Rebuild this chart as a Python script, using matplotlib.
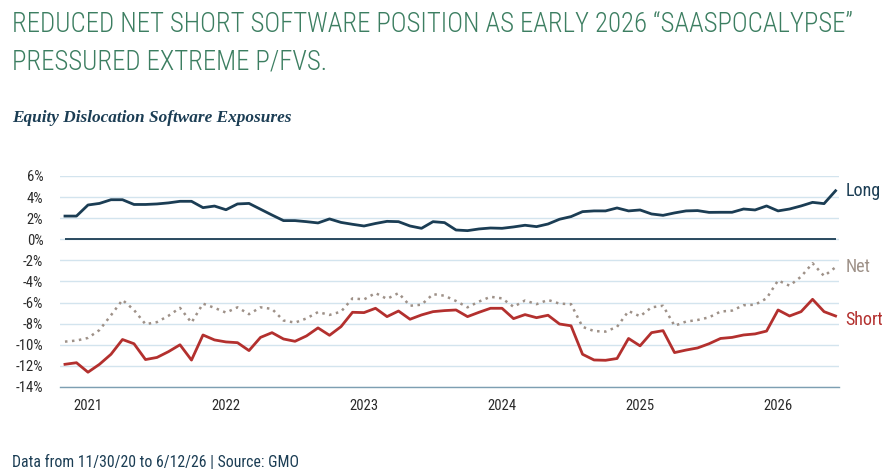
import matplotlib.pyplot as plt
import numpy as np

# monthly points, 11/30/20 .. 6/12/26
long_pos = [2.2, 2.2, 3.25, 3.4, 3.75, 3.75, 3.3, 3.3, 3.35, 3.45, 3.6, 3.6,
            3.0, 3.15, 2.8, 3.35, 3.4, 2.85, 2.3, 1.77, 1.77, 1.67, 1.55, 1.93,
            1.6, 1.42, 1.26, 1.5, 1.7, 1.67, 1.26, 1.04, 1.67, 1.58, 0.88, 0.82,
            0.98, 1.07, 1.04, 1.17, 1.33, 1.2, 1.45, 1.9, 2.15, 2.62, 2.69, 2.69,
            2.97, 2.69, 2.78, 2.4, 2.27, 2.5, 2.69, 2.72, 2.55, 2.56, 2.56, 2.87,
            2.78, 3.16, 2.69, 2.87, 3.16, 3.5, 3.38, 4.6]
short_pos = [-11.85, -11.7, -12.6, -11.85, -10.9, -9.5, -9.9, -11.4, -11.2, -10.65, -10.0, -11.45,
             -9.07, -9.54, -9.73, -9.8, -10.55, -9.3, -8.85, -9.45, -9.67, -9.16, -8.4, -9.1,
             -8.28, -6.92, -6.95, -6.54, -7.33, -6.8, -7.58, -7.17, -6.86, -6.76, -6.7, -7.33,
             -6.92, -6.54, -6.54, -7.52, -7.14, -7.43, -7.2, -8.03, -8.2, -10.9, -11.44, -11.47,
             -11.3, -9.4, -10.1, -8.85, -8.66, -10.74, -10.5, -10.3, -9.9, -9.4, -9.3, -9.07,
             -8.97, -8.7, -6.7, -7.27, -6.86, -5.69, -6.86, -7.27]
net_pos = [-9.7, -9.6, -9.35, -8.6, -7.2, -5.75, -6.7, -8.05, -7.85, -7.25, -6.5, -7.9,
           -6.1, -6.5, -6.95, -6.45, -7.1, -6.45, -6.6, -7.7, -7.9, -7.5, -6.9, -7.17,
           -6.86, -5.6, -5.7, -5.1, -5.65, -5.1, -6.3, -6.2, -5.2, -5.35, -5.85, -6.45,
           -5.9, -5.45, -5.6, -6.4, -5.8, -6.15, -5.75, -6.1, -6.15, -8.3, -8.7, -8.75,
           -8.3, -6.8, -7.3, -6.45, -6.3, -8.2, -7.8, -7.65, -7.4, -6.85, -6.76, -6.25,
           -6.2, -5.6, -3.9, -4.4, -3.54, -2.27, -3.48, -2.65]
years = ['2021', '2022', '2023', '2024', '2025', '2026']
year_idx = [2, 14, 26, 38, 50, 62]  # January of each year

cond = ['Roboto Condensed', 'Liberation Sans Narrow', 'DejaVu Sans']
navy = '#1b3d54'
red = '#b3302e'
taupe = '#9e9188'
green = '#3c7e61'

fig = plt.figure(figsize=(8.92, 4.75), dpi=100)
ax = fig.add_axes([0.0673, 0.1853, 0.8733, 0.4442])

x = np.arange(len(long_pos))
ax.set_ylim(-14, 6)
ax.set_xlim(-0.43, 67.3)
ax.set_yticks(np.arange(-14, 7, 2))
ax.set_yticklabels([f'{v}%' for v in range(-14, 7, 2)], family=cond, fontsize=10.5, color='#2a2a2a')
ax.set_xticks(year_idx)
ax.set_xticklabels(years, family=cond, fontsize=10.5, color='#2a2a2a')
ax.tick_params(length=0, axis='y', pad=12)
ax.tick_params(length=0, axis='x', pad=9)
ax.grid(axis='y', color='#d3e4ee', lw=1)
ax.set_axisbelow(True)
for s in ['top', 'right', 'left']:
    ax.spines[s].set_visible(False)
ax.spines['bottom'].set_color('#7d9fb2')
ax.spines['bottom'].set_linewidth(1)

ax.hlines(0, x[0], x[-1], color=navy, lw=1.3, zorder=2)
ax.plot(x, net_pos, color=taupe, lw=1.8, ls=(0, (1, 1.8)), zorder=3)
ax.plot(x, short_pos, color=red, lw=2, zorder=4)
ax.plot(x, long_pos, color=navy, lw=2, zorder=5)

# end-of-line labels (Short sits a little below its last point)
for vals, name, c, dy in [(long_pos, 'Long', navy, 0), (net_pos, 'Net', taupe, 0), (short_pos, 'Short', red, -3)]:
    ax.annotate(name, (x[-1], vals[-1]), xytext=(7, dy), textcoords='offset points',
                va='center', ha='left', family=cond, fontsize=13, color=c, annotation_clip=False)

fig.text(0.014, 0.948, 'REDUCED NET SHORT SOFTWARE POSITION AS EARLY 2026 \u201cSAASPOCALYPSE\u201d',
         family=cond, fontsize=19.3, weight='light', color=green, va='center', ha='left')
fig.text(0.014, 0.870, 'PRESSURED EXTREME P/FVS.',
         family=cond, fontsize=19.3, weight='light', color=green, va='center', ha='left')
fig.text(0.014, 0.751, 'Equity Dislocation Software Exposures', family=['Liberation Serif', 'DejaVu Serif'],
         style='italic', weight='bold', fontsize=12.4, color=navy, va='center', ha='left')
fig.text(0.013, 0.027, 'Data from 11/30/20 to 6/12/26 | Source: GMO', family=cond,
         fontsize=11.3, color=navy, va='center', ha='left')

fig.savefig('out.png', dpi=100, facecolor='white')
